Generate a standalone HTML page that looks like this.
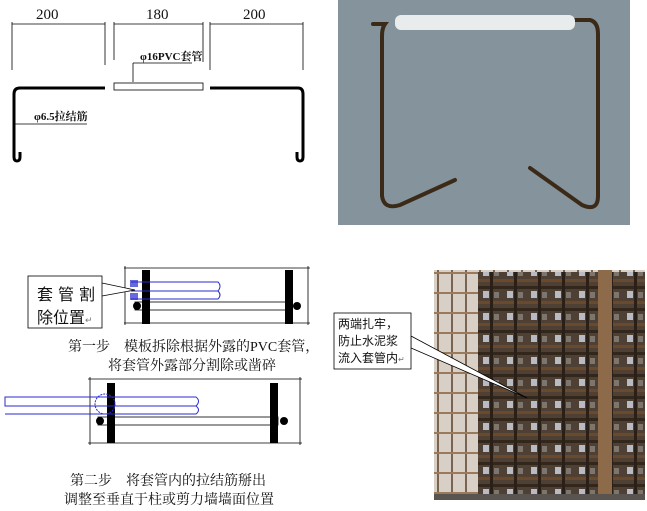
<!DOCTYPE html>
<html><head><meta charset="utf-8"><style>
html,body{margin:0;padding:0;background:#fff;}
body{width:647px;height:511px;position:relative;overflow:hidden;font-family:"Liberation Sans","Noto Sans CJK SC",sans-serif;}
.t{position:absolute;font-family:"Liberation Serif","Noto Serif CJK SC",serif;font-size:13px;color:#111;white-space:nowrap;}
</style></head><body>
<svg width="647" height="511" style="position:absolute;left:0;top:0">
<defs>
<pattern id="cage" x="0" y="0" width="24" height="22" patternUnits="userSpaceOnUse">
<rect width="24" height="22" fill="#4e4034"/>
<rect x="3" y="5" width="6" height="7" fill="#b8bcc2"/>
<rect x="14" y="6" width="5" height="6" fill="#7e766c"/>
<rect x="0" y="0" width="24" height="3" fill="#33271c"/>
<rect x="0" y="15" width="24" height="3" fill="#6b4a2c"/>
<rect x="10" y="0" width="3" height="22" fill="#2a2018"/>
</pattern>
<pattern id="scaf" x="0" y="0" width="14" height="20" patternUnits="userSpaceOnUse">
<rect width="14" height="20" fill="#d8d0c6"/>
<rect x="3" y="0" width="2" height="20" fill="#7a6450"/>
<rect x="0" y="12" width="14" height="2" fill="#9a7a5a"/>
</pattern>
</defs>
<!-- top-left drawing -->
<g stroke="#000" stroke-width="0.8" fill="none">
<line x1="12" y1="24" x2="105" y2="24"/><line x1="114" y1="24" x2="203" y2="24"/><line x1="210" y1="24" x2="303" y2="24"/>
<line x1="12" y1="22" x2="12" y2="70"/><line x1="105" y1="22" x2="105" y2="65"/><line x1="114" y1="22" x2="114" y2="60"/>
<line x1="203" y1="22" x2="203" y2="62"/><line x1="210" y1="22" x2="210" y2="70"/><line x1="303" y1="22" x2="303" y2="70"/>
<line x1="133" y1="82" x2="133" y2="63"/><line x1="133" y1="63" x2="192" y2="63"/>
<line x1="14" y1="124" x2="87" y2="124"/>
<rect x="114" y="83" width="89" height="7"/>
</g>
<g stroke="#000" stroke-width="3" fill="none">
<path d="M105 88 H20 Q14 88 14 94 V157 Q14 161 17 161 Q20 161 20 157 V152"/>
<path d="M210 88 H298 Q303 88 303 94 V157 Q303 161 300 161 Q297 161 297 157 V152"/>
</g>
<!-- step1 -->
<g stroke="#000" stroke-width="0.8" fill="none">
<line x1="124" y1="268" x2="310" y2="268"/><line x1="124" y1="323" x2="310" y2="323"/>
<line x1="125" y1="266" x2="125" y2="325"/><line x1="308" y1="266" x2="308" y2="325"/>
<rect x="135" y="302" width="152" height="8"/>
</g>
<rect x="142" y="270" width="8" height="54" fill="#000"/>
<rect x="285" y="270" width="8" height="54" fill="#000"/>
<circle cx="137" cy="306" r="4" fill="#000"/><circle cx="297" cy="306" r="4" fill="#000"/>
<g stroke="#2a2ad0" stroke-width="1" fill="none">
<path d="M131 282 H218 Q222 286 218 291 H131"/><path d="M131 291 H218 Q222 295 218 299 H131"/>
</g>
<rect x="130" y="280" width="8" height="7" fill="#2a2ad0" opacity="0.7"/>
<rect x="130" y="293" width="8" height="7" fill="#2a2ad0" opacity="0.7"/>
<path d="M102 283 L135 290 L102 296" stroke="#000" stroke-width="0.8" fill="#fff"/>
<rect x="28" y="276" width="74" height="52" fill="#fff" stroke="#000" stroke-width="0.8"/>
<!-- step2 -->
<g stroke="#000" stroke-width="0.8" fill="none">
<line x1="88" y1="379" x2="302" y2="379"/><line x1="88" y1="443" x2="302" y2="443"/>
<line x1="90" y1="377" x2="90" y2="445"/><line x1="300" y1="377" x2="300" y2="445"/>
<rect x="98" y="417" width="180" height="8"/>
</g>
<rect x="107" y="383" width="8" height="60" fill="#000"/>
<rect x="270" y="383" width="8" height="60" fill="#000"/>
<circle cx="100" cy="421" r="4" fill="#000"/><circle cx="284" cy="421" r="4" fill="#000"/>
<g stroke="#2a2ad0" stroke-width="1" fill="none">
<path d="M5 397 H196 Q201 401 196 406 H5 Z"/><path d="M5 406 H196 Q201 410 196 414 H5"/>
<circle cx="105" cy="404" r="10" stroke-dasharray="2 1"/>
</g>
<!-- photo 1 -->
<rect x="338" y="0" width="292" height="225" fill="#84939c"/>
<g stroke="#3b2a18" stroke-width="4" fill="none" stroke-linecap="round">
<path d="M373 24 H385 Q382 28 382 36 V196 Q384 210 400 205 L455 180"/>
<path d="M572 20 H590 Q598 22 598 34 V196 Q598 212 582 205 L530 168"/>
</g>
<rect x="395" y="15" width="180" height="15" rx="6" fill="#e8ecec"/>
<!-- photo 2 -->
<rect x="434" y="270" width="211" height="230" fill="url(#scaf)"/>
<rect x="478" y="272" width="167" height="228" fill="url(#cage)"/>
<rect x="598" y="270" width="14" height="230" fill="#8c6a4a"/>
<rect x="434" y="494" width="211" height="6" fill="#5a5450"/>
<path d="M411 336 L527 398 L411 348 Z" fill="#fff" stroke="#000" stroke-width="0.8"/>
<rect x="334" y="313" width="77" height="56" fill="#fff" stroke="#000" stroke-width="0.8"/>
</svg>
<div class="t" style="left:36px;top:7px;font-size:15px">200</div>
<div class="t" style="left:146px;top:7px;font-size:15px">180</div>
<div class="t" style="left:243px;top:7px;font-size:15px">200</div>
<div class="t" style="left:140px;top:48px;font-size:11px;font-weight:bold">φ16PVC套管</div>
<div class="t" style="left:34px;top:108px;font-size:11px;font-weight:bold">φ6.5拉结筋</div>
<div class="t" style="left:37px;top:281px;font-family:'Liberation Sans','Noto Sans CJK SC',sans-serif;font-size:16px;letter-spacing:5px">套管割</div>
<div class="t" style="left:37px;top:304px;font-family:'Liberation Sans','Noto Sans CJK SC',sans-serif;font-size:16px">除位置<span style="font-size:9px;color:#777">↵</span></div>
<div class="t" style="left:68px;top:336px;font-size:14px">第一步　模板拆除根据外露的PVC套管，</div>
<div class="t" style="left:108px;top:355px;font-size:14px">将套管外露部分割除或凿碎</div>
<div class="t" style="left:70px;top:470px;font-size:14px">第二步　将套管内的拉结筋掰出</div>
<div class="t" style="left:64px;top:489px;font-size:14px">调整至垂直于柱或剪力墙墙面位置</div>
<div class="t" style="left:338px;top:316px;font-family:'Liberation Sans','Noto Sans CJK SC',sans-serif;font-size:12px;line-height:17px">两端扎牢，<br>防止水泥浆<br>流入套管内<span style="font-size:8px;color:#777">↵</span></div>
</body></html>
